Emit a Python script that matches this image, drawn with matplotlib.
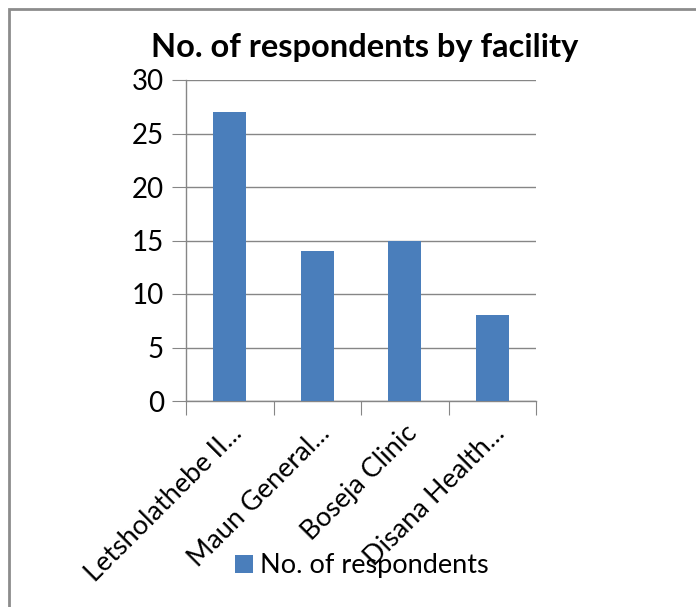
import numpy as np
import matplotlib
matplotlib.use('Agg')
from matplotlib import pyplot as plt
from matplotlib.patches import Rectangle

# data
facilities = ['Letsholathebe II...', 'Maun General...', 'Boseja Clinic', 'Disana Health...']
respondents = [27, 14, 15, 8]
series_name = 'No. of respondents'
title = 'No. of respondents by facility'

bar_color = '#4a7ebb'
grid_color = '#868686'

plt.rcParams['font.family'] = ['Lato', 'DejaVu Sans']

fig = plt.figure(figsize=(6.96, 6.07), dpi=100)
ax = fig.add_axes([186/696, 1-401/607, 350/696, 321/607])

x = np.arange(len(facilities))
ax.bar(x, respondents, width=0.38, color=bar_color, label=series_name, zorder=3)

ax.set_xlim(-0.5, len(facilities) - 0.5)
ax.set_ylim(0, 30)
ax.set_yticks(range(0, 31, 5))
ax.yaxis.grid(True, color=grid_color, linewidth=1)
ax.set_axisbelow(True)

# category ticks sit between bars
ax.set_xticks(np.arange(-0.5, len(facilities), 1), minor=False)
ax.set_xticklabels([])
ax.set_xticks(x, minor=True)
ax.set_xticklabels(facilities, minor=True, rotation=45, ha='right',
                   rotation_mode='anchor', fontsize=19.5)
ax.tick_params(axis='x', which='minor', length=0, pad=14)
ax.tick_params(axis='x', which='major', length=10, color=grid_color)
ax.tick_params(axis='y', length=10, color=grid_color, labelsize=20, pad=6)

for s in ['top', 'right']:
    ax.spines[s].set_visible(False)
for s in ['left', 'bottom']:
    ax.spines[s].set_color(grid_color)
    ax.spines[s].set_linewidth(1)

fig.text(365/696, 1-47/607, title, ha='center', va='center',
         fontsize=23.5, fontweight='bold')

fig.legend(loc='center', bbox_to_anchor=(362/696, 1-566/607), frameon=False,
           fontsize=19.5, handlelength=0.65, handleheight=0.65, handletextpad=0.25)

# outer chart frame (right and bottom edges cropped away)
fig.patches.append(Rectangle((9/696, -0.1), 1.2, 1-9/607+0.1, transform=fig.transFigure,
                             fill=False, edgecolor='#8c8c8c', linewidth=2))

fig.savefig('out.png', dpi=100)
